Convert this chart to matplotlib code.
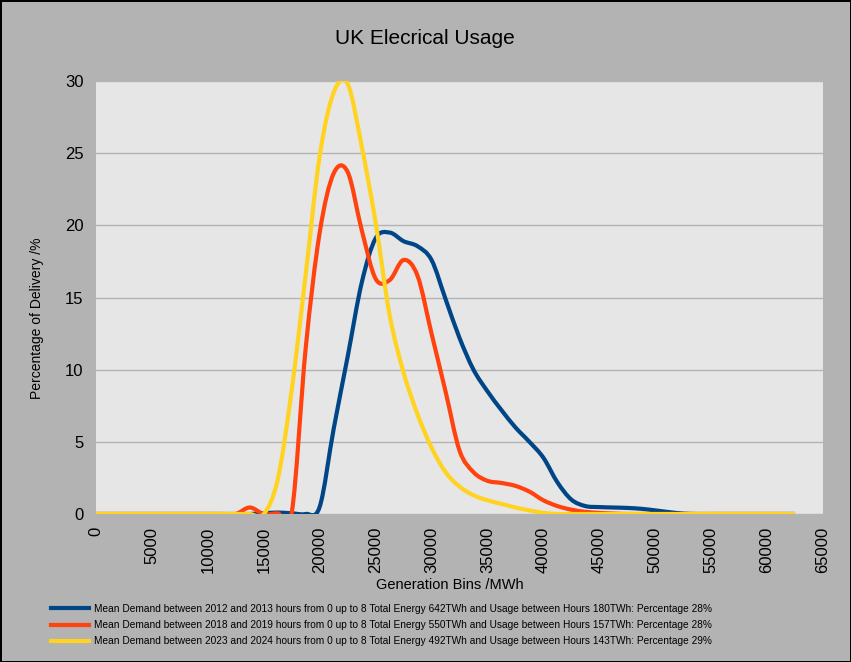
import matplotlib
matplotlib.use("Agg")
import matplotlib.pyplot as plt
import numpy as np
from matplotlib.path import Path
from matplotlib.patches import PathPatch
from matplotlib.lines import Line2D

plt.rcParams['font.family'] = ['Liberation Sans', 'DejaVu Sans']

# generation bins (MWh)
bins = np.arange(0, 63750, 1250)

demand_2012 = [0, 0, 0, 0, 0, 0, 0, 0, 0, 0,
               0, 0, 0.05, 0.1, 0.05, 0, 0.5, 5.9, 10.9, 16.0,
               19.1, 19.5, 18.9, 18.55, 17.6, 14.9, 12.2, 10.0, 8.5, 7.2,
               6.0, 5.0, 3.9, 2.2, 1.0, 0.55, 0.48, 0.45, 0.42, 0.36,
               0.25, 0.13, 0.03, 0, 0, 0, 0, 0, 0, 0, 0]
demand_2018 = [0, 0, 0, 0, 0, 0, 0, 0, 0, 0,
               0, 0.45, 0, 0.05, 0.1, 11.5, 19.5, 23.6, 23.7, 19.7,
               16.3, 16.2, 17.6, 16.5, 12.5, 8.5, 4.4, 2.9, 2.3, 2.15,
               1.95, 1.55, 0.95, 0.55, 0.3, 0.15, 0.08, 0.03, 0, 0,
               0, 0, 0, 0, 0, 0, 0, 0, 0, 0, 0]
demand_2023 = [0, 0, 0, 0, 0, 0, 0, 0, 0, 0,
               0, 0, 0, 2.4, 8.6, 16.6, 24.8, 29.2, 29.8, 25.5,
               20.2, 13.8, 9.8, 6.9, 4.6, 2.9, 1.9, 1.3, 0.95, 0.7,
               0.45, 0.25, 0.08, 0, 0, 0, 0, 0, 0, 0,
               0, 0, 0, 0, 0, 0, 0, 0, 0, 0, 0]

labels = [
    "Mean Demand between 2012 and 2013 hours from 0 up to 8 Total Energy 642TWh and Usage between Hours 180TWh: Percentage 28%",
    "Mean Demand between 2018 and 2019 hours from 0 up to 8 Total Energy 550TWh and Usage between Hours 157TWh: Percentage 28%",
    "Mean Demand between 2023 and 2024 hours from 0 up to 8 Total Energy 492TWh and Usage between Hours 143TWh: Percentage 29%",
]
colors = ['#004586', '#ff420e', '#ffd320']
xticks = np.arange(0, 70000, 5000)
yticks = [0, 5, 10, 15, 20, 25, 30]


def smooth_path(x, y):
    # catmull-rom style bezier, like a spreadsheet "smoothed line"
    pts = np.column_stack([x, y]).astype(float)
    ext = np.vstack([pts[0], pts, pts[-1]])
    verts = [pts[0]]
    codes = [Path.MOVETO]
    for i in range(1, len(ext) - 2):
        p0, p1, p2, p3 = ext[i - 1], ext[i], ext[i + 1], ext[i + 2]
        verts += [p1 + (p2 - p0) / 6, p2 - (p3 - p1) / 6, p2]
        codes += [Path.CURVE4] * 3
    return Path(verts, codes)


fig = plt.figure(figsize=(8.51, 6.62), dpi=100)
fig.patch.set_facecolor('#b3b3b3')
ax = fig.add_axes([96 / 851, 1 - 514 / 662, 727 / 851, 433 / 662])
ax.set_facecolor('#e6e6e6')

handles = []
for series, c, lab in zip([demand_2012, demand_2018, demand_2023], colors, labels):
    patch = PathPatch(smooth_path(bins, series), fill=False, edgecolor=c,
                      linewidth=3, joinstyle='round', capstyle='butt')
    ax.add_patch(patch)
    handles.append(Line2D([], [], color=c, linewidth=3, label=lab))

ax.set_xlim(0, 65000)
ax.set_ylim(0, 30)
ax.set_xticks(xticks)
ax.set_xticklabels([str(v) for v in xticks], rotation=90, fontsize=12)
ax.set_yticks(yticks)
ax.set_yticklabels([str(v) for v in yticks], fontsize=12)
ax.tick_params(length=0, pad=9)
ax.yaxis.grid(True, color='#b3b3b3', linewidth=1)
ax.set_axisbelow(True)
for s in ax.spines.values():
    s.set_visible(False)

fig.text(425 / 851, 1 - 38 / 662, "UK Elecrical Usage", ha='center', va='center', fontsize=15)
fig.text(450 / 851, 1 - 585 / 662, "Generation Bins /MWh", ha='center', va='center', fontsize=10.5)
fig.text(37 / 851, 1 - 318 / 662, "Percentage of Delivery /%", ha='center', va='center',
         rotation=90, fontsize=10)

fig.legend(handles=handles, loc='upper left', bbox_to_anchor=(51 / 851, 1 - 604 / 662),
           frameon=False, fontsize=7.25, handlelength=3.8, handletextpad=0.5,
           labelspacing=0.62, borderpad=0, borderaxespad=0)

fig.patch.set_edgecolor('black')
fig.patch.set_linewidth(2)
fig.savefig("out.png", dpi=100, facecolor=fig.get_facecolor(), edgecolor='black')
